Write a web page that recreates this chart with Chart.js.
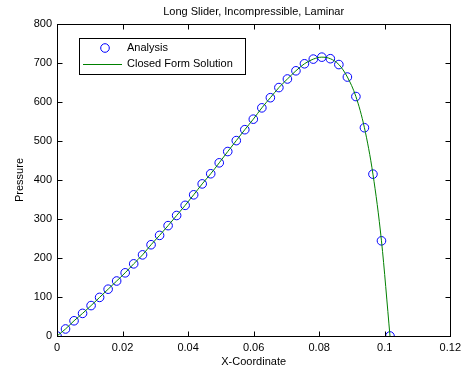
<!DOCTYPE html>
<html><head><meta charset="utf-8">
<script src="https://cdn.jsdelivr.net/npm/chart.js@4"></script>
<style>html,body{margin:0;padding:0;background:#fff}#wrap{width:466px;height:371px}</style>
</head><body><div id="wrap"><canvas id="c" width="466" height="371"></canvas></div>
<script>
const chartTitle = 'Long Slider, Incompressible, Laminar';
const xTitle = 'X-Coordinate';
const yTitle = 'Pressure';
const seriesNames = ['Analysis', 'Closed Form Solution'];
const xCoordinates = [0, 0.0026, 0.0052, 0.0078, 0.0104, 0.0130, 0.0156, 0.0182, 0.0208, 0.0234,
  0.0261, 0.0287, 0.0313, 0.0339, 0.0365, 0.0391, 0.0417, 0.0443, 0.0469, 0.0495,
  0.0521, 0.0547, 0.0573, 0.0599, 0.0625, 0.0651, 0.0677, 0.0703, 0.0729, 0.0755,
  0.0782, 0.0808, 0.0834, 0.0860, 0.0886, 0.0912, 0.0938, 0.0964, 0.0990, 0.1016];
const analysisPressure = [0, 18, 39, 58, 78, 99, 120, 141, 162, 185,
  208, 234, 258, 283, 309, 335, 362, 390, 416, 444,
  473, 501, 529, 556, 585, 611, 637, 659, 680, 698,
  710, 715, 711, 696, 664, 614, 534, 415, 244, 0];
const closedFormPressure = [0, 18, 39, 58, 78, 99, 120, 141, 162, 185,
  208, 234, 258, 283, 309, 335, 362, 390, 416, 444,
  473, 501, 529, 556, 585, 611, 637, 659, 680, 698,
  710, 715, 711, 696, 664, 614, 534, 415, 244, 0];
const xTicks = [0, 0.02, 0.04, 0.06, 0.08, 0.1, 0.12];
const yTicks = [0, 100, 200, 300, 400, 500, 600, 700, 800];

const FONT = 'Arial, "Liberation Sans", sans-serif';

const framePlugin = {
  id: 'frame',
  afterDraw(chart) {
    const ctx = chart.ctx, a = chart.chartArea;
    const xs = chart.scales.x, ys = chart.scales.y;
    ctx.save();
    ctx.strokeStyle = '#000';
    ctx.lineWidth = 1;
    const L = Math.round(a.left) + 0.5, R = Math.round(a.right) + 0.5;
    const T = Math.round(a.top) + 0.5, B = Math.round(a.bottom) + 0.5;
    ctx.strokeRect(L, T, R - L, B - T);
    ctx.beginPath();
    xTicks.forEach(v => {
      const px = Math.round(xs.getPixelForValue(v)) + 0.5;
      ctx.moveTo(px, B); ctx.lineTo(px, B - 5);
      ctx.moveTo(px, T); ctx.lineTo(px, T + 5);
    });
    yTicks.forEach(v => {
      const py = Math.round(ys.getPixelForValue(v)) + 0.5;
      ctx.moveTo(L, py); ctx.lineTo(L + 5, py);
      ctx.moveTo(R, py); ctx.lineTo(R - 5, py);
    });
    ctx.stroke();
    // legend
    const lx = 79.5, ly = 38.5, lw = 166, lh = 36;
    ctx.fillStyle = '#fff';
    ctx.fillRect(lx, ly, lw, lh);
    ctx.strokeRect(lx, ly, lw, lh);
    ctx.strokeStyle = '#0000ff';
    ctx.beginPath(); ctx.arc(105, 48, 4.3, 0, Math.PI * 2); ctx.stroke();
    ctx.strokeStyle = '#008000';
    ctx.beginPath(); ctx.moveTo(83, 64.5); ctx.lineTo(122, 64.5); ctx.stroke();
    ctx.fillStyle = '#000';
    ctx.font = '11px ' + FONT;
    ctx.textBaseline = 'middle';
    ctx.textAlign = 'left';
    ctx.fillText(seriesNames[0], 127, 48);
    ctx.fillText(seriesNames[1], 127, 64);
    ctx.restore();
  }
};

new Chart(document.getElementById('c'), {
  type: 'scatter',
  data: {
    datasets: [
      {
        label: seriesNames[1],
        data: xCoordinates.map((x, i) => ({x, y: closedFormPressure[i]})),
        showLine: true,
        borderColor: '#008000',
        borderWidth: 1,
        pointRadius: 0,
        cubicInterpolationMode: 'monotone',
        order: 1
      },
      {
        label: seriesNames[0],
        data: xCoordinates.map((x, i) => ({x, y: analysisPressure[i]})),
        showLine: false,
        borderColor: '#0000ff',
        backgroundColor: 'rgba(0,0,0,0)',
        borderWidth: 1,
        pointRadius: 4.3,
        pointStyle: 'circle',
        order: 2
      }
    ]
  },
  options: {
    responsive: false,
    animation: false,
    devicePixelRatio: 1,
    layout: { padding: { left: 0, right: 14, top: 0, bottom: 0 } },
    plugins: {
      legend: { display: false },
      tooltip: { enabled: false },
      title: {
        display: true, text: chartTitle, color: '#000', fullSize: false,
        font: { family: FONT, size: 11, weight: 'normal' },
        padding: { top: 5, bottom: 5.8 }
      }
    },
    scales: {
      x: {
        type: 'linear', min: 0, max: 0.12,
        afterFit: s => { s.height = 35; },
        afterBuildTicks: s => { s.ticks = xTicks.map(v => ({value: v})); },
        grid: { display: false, drawTicks: false },
        border: { display: false },
        ticks: {
          color: '#000', padding: 5, maxRotation: 0, autoSkip: false,
          font: { family: FONT, size: 11 },
          callback: v => String(parseFloat(Number(v).toFixed(2)))
        },
        title: { display: true, text: xTitle, color: '#000', font: { family: FONT, size: 11 }, padding: { top: 0, bottom: 2 } }
      },
      y: {
        type: 'linear', min: 0, max: 800,
        afterFit: s => { s.width = 57; },
        afterBuildTicks: s => { s.ticks = yTicks.map(v => ({value: v})); },
        grid: { display: false, drawTicks: false },
        border: { display: false },
        ticks: {
          color: '#000', padding: 5, autoSkip: false,
          font: { family: FONT, size: 11 },
          callback: v => String(v)
        },
        title: { display: true, text: yTitle, color: '#000', font: { family: FONT, size: 11 }, padding: { top: 13, bottom: 13 } }
      }
    }
  },
  plugins: [framePlugin]
});
</script>
</body></html>
